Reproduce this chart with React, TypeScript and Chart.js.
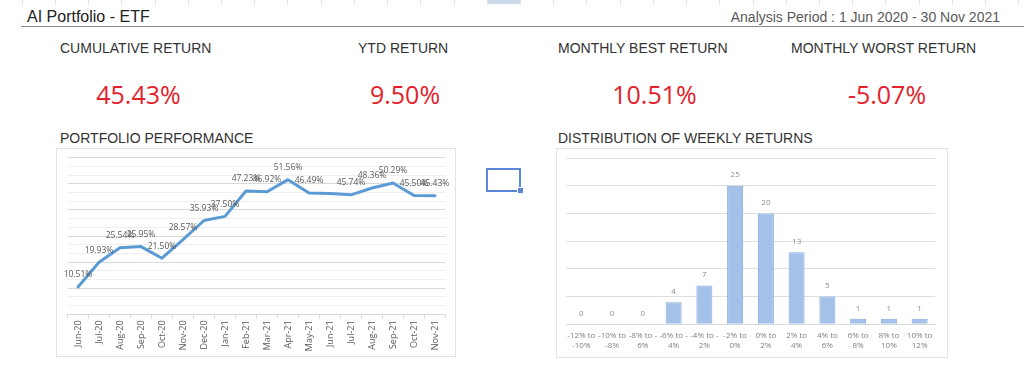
import React, { useEffect, useRef } from "react";
import { Chart, registerables } from "chart.js";

Chart.register(...registerables);
Chart.defaults.font.family = "'Open Sans', 'Noto Sans', sans-serif";

// ---------- data ----------
const dashboardTitle = "AI Portfolio - ETF";
const analysisPeriod = "Analysis Period : 1 Jun 2020 - 30 Nov 2021";

const kpiTitles = ["CUMULATIVE RETURN", "YTD RETURN", "MONTHLY BEST RETURN", "MONTHLY WORST RETURN"];
const kpiValues = ["45.43%", "9.50%", "10.51%", "-5.07%"];

const perfTitle = "PORTFOLIO PERFORMANCE";
const months = [
  "Jun-20", "Jul-20", "Aug-20", "Sep-20", "Oct-20", "Nov-20", "Dec-20",
  "Jan-21", "Feb-21", "Mar-21", "Apr-21", "May-21", "Jun-21", "Jul-21",
  "Aug-21", "Sep-21", "Oct-21", "Nov-21",
];
const cumulativeReturn = [
  10.51, 19.93, 25.54, 25.95, 21.5, 28.57, 35.93, 37.5, 47.23, 46.92,
  51.56, 46.49, 46.3, 45.74, 48.36, 50.29, 45.5, 45.43,
];
const perfLabelShown = [
  true, true, true, true, true, true, true, true, true, true,
  true, true, false, true, true, true, true, true,
];

const distTitle = "DISTRIBUTION OF WEEKLY RETURNS";
const returnBins = [
  ["-12% to", "-10%"], ["-10% to", "-8%"], ["-8% to -", "6%"], ["-6% to -", "4%"],
  ["-4% to -", "2%"], ["-2% to", "0%"], ["0% to", "2%"], ["2% to", "4%"],
  ["4% to", "6%"], ["6% to", "8%"], ["8% to", "10%"], ["10% to", "12%"],
];
const weeklyCounts = [0, 0, 0, 4, 7, 25, 20, 13, 5, 1, 1, 1];

// ---------- layout constants ----------
const kpiTitleLeft = [60, 358, 558, 791];
const kpiValueCenter = [138.5, 405, 654.5, 887];

function makeValueLabels(
  format: (v: number, i: number) => string | null,
  font: string,
  color: string,
  offset: number
) {
  return {
    id: "valueLabels",
    afterDatasetsDraw(chart: any) {
      const { ctx } = chart;
      const meta = chart.getDatasetMeta(0);
      const data = chart.data.datasets[0].data as number[];
      ctx.save();
      ctx.font = font;
      ctx.fillStyle = color;
      ctx.textAlign = "center";
      ctx.textBaseline = "middle";
      meta.data.forEach((el: any, i: number) => {
        const t = format(data[i], i);
        if (t == null) return;
        ctx.fillText(t, el.x, el.y - offset);
      });
      ctx.restore();
    },
  };
}

function PerformanceChart() {
  const ref = useRef<HTMLCanvasElement>(null);
  useEffect(() => {
    if (!ref.current) return;
    const chart = new Chart(ref.current, {
      type: "line",
      data: {
        labels: months,
        datasets: [
          {
            data: cumulativeReturn,
            borderColor: "#5b9bd5",
            borderWidth: 3,
            pointRadius: 0,
            tension: 0,
            borderCapStyle: "round",
            borderJoinStyle: "round",
            fill: false,
          },
        ],
      },
      options: {
        responsive: false,
        animation: false,
        layout: { padding: { left: 10.5, right: 9.5, top: 8.6, bottom: 0 } },
        plugins: { legend: { display: false }, tooltip: { enabled: false } },
        scales: {
          x: {
            type: "category",
            offset: true,
            grid: {
              display: true,
              drawOnChartArea: false,
              drawTicks: true,
              tickLength: 4,
              offset: true,
              color: "#d9d9d9",
            },
            border: { display: true, color: "#d9d9d9" },
            ticks: {
              autoSkip: false,
              minRotation: 90,
              maxRotation: 90,
              padding: 2,
              color: "#595959",
              font: { size: 9 },
            },
            afterFit: (s: any) => {
              s.height = 41.6;
            },
          },
          y: {
            min: 0,
            max: 60,
            afterBuildTicks: (s: any) => {
              s.ticks = Array.from({ length: 19 }, (_, i) => ({ value: (i * 10) / 3 }));
            },
            ticks: { display: false },
            border: { display: false },
            grid: {
              drawTicks: false,
              color: (c: any) => {
                const v = c.tick ? c.tick.value : 0;
                return Math.abs(v / 10 - Math.round(v / 10)) < 1e-6 ? "#d9d9d9" : "#efefef";
              },
            },
          },
        },
      },
      plugins: [
        makeValueLabels(
          (v, i) => (perfLabelShown[i] ? v.toFixed(2) + "%" : null),
          "8.5px 'Open Sans', sans-serif",
          "#595959",
          12
        ),
      ],
    } as any);
    return () => chart.destroy();
  }, []);
  return <canvas ref={ref} width={398} height={207} style={{ display: "block", width: 398, height: 207 }} />;
}

function DistributionChart() {
  const ref = useRef<HTMLCanvasElement>(null);
  useEffect(() => {
    if (!ref.current) return;
    const chart = new Chart(ref.current, {
      type: "bar",
      data: {
        labels: returnBins,
        datasets: [
          {
            data: weeklyCounts,
            backgroundColor: "#a4c2e9",
            borderColor: "#83aade",
            borderWidth: 1,
            barPercentage: 0.52,
            categoryPercentage: 1,
          },
        ],
      },
      options: {
        responsive: false,
        animation: false,
        layout: { padding: { left: 9, right: 12, top: 9, bottom: 0 } },
        plugins: { legend: { display: false }, tooltip: { enabled: false } },
        scales: {
          x: {
            grid: { display: false, drawTicks: false },
            border: { display: true, color: "#d9d9d9" },
            ticks: {
              autoSkip: false,
              minRotation: 0,
              maxRotation: 0,
              padding: 6,
              color: "#7f7f7f",
              font: { size: 8, lineHeight: 1.25 },
            },
            afterFit: (s: any) => {
              s.height = 32.7;
            },
          },
          y: {
            min: 0,
            max: 30,
            ticks: { display: false, stepSize: 5 },
            border: { display: false },
            grid: { drawTicks: false, color: "#dedede" },
          },
        },
      },
      plugins: [
        makeValueLabels((v) => String(v), "8px 'Open Sans', sans-serif", "#8c8c8c", 10.5),
      ],
    } as any);
    return () => chart.destroy();
  }, []);
  return <canvas ref={ref} width={390} height={208} style={{ display: "block", width: 390, height: 208 }} />;
}

const arial = "'Liberation Sans', Arial, sans-serif";

export default function App() {
  const colLines = Array.from({ length: 31 }, (_, i) => Math.round(21.7 + i * 33.22));
  return (
    <div
      style={{
        position: "fixed",
        left: 0,
        top: 0,
        width: 1024,
        height: 367,
        background: "#ffffff",
        overflow: "hidden",
        fontFamily: arial,
      }}
    >
      {/* spreadsheet header strip */}
      <div style={{ position: "absolute", left: 487, top: 0, width: 33, height: 4, background: "#cbd8ec" }} />
      {colLines.map((x, i) => (
        <div key={i} style={{ position: "absolute", left: x, top: 0, width: 1, height: 5, background: "#e3e3e3" }} />
      ))}

      {/* title row */}
      <div style={{ position: "absolute", left: 27, top: 9.2, fontSize: 16, lineHeight: "16px", color: "#222", whiteSpace: "nowrap" }}>
        {dashboardTitle}
      </div>
      <div style={{ position: "absolute", right: 24, top: 9.6, fontSize: 14, lineHeight: "14px", color: "#595959", whiteSpace: "nowrap" }}>
        {analysisPeriod}
      </div>
      <div style={{ position: "absolute", left: 21, top: 26, width: 1003, height: 1, background: "#8a8a8a" }} />

      {/* KPI titles and values */}
      {kpiTitles.map((t, i) => (
        <div key={"t" + i} style={{ position: "absolute", left: kpiTitleLeft[i], top: 41, fontSize: 14, lineHeight: "14px", color: "#333", whiteSpace: "nowrap" }}>
          {t}
        </div>
      ))}
      {kpiValues.map((v, i) => (
        <div
          key={"v" + i}
          style={{
            position: "absolute",
            left: kpiValueCenter[i] - 80,
            width: 160,
            top: 81.8,
            textAlign: "center",
            fontFamily: "'Open Sans', sans-serif",
            fontSize: 25,
            lineHeight: "25px",
            color: "#e3222b",
            whiteSpace: "nowrap",
          }}
        >
          {v}
        </div>
      ))}

      {/* section titles */}
      <div style={{ position: "absolute", left: 60, top: 130.6, fontSize: 14, lineHeight: "14px", color: "#333", whiteSpace: "nowrap" }}>
        {perfTitle}
      </div>
      <div style={{ position: "absolute", left: 558, top: 130.6, fontSize: 14, lineHeight: "14px", color: "#333", whiteSpace: "nowrap" }}>
        {distTitle}
      </div>

      {/* performance chart box */}
      <div style={{ position: "absolute", left: 56, top: 148, width: 400, height: 209, boxSizing: "border-box", border: "1px solid #e2e2e2" }}>
        <PerformanceChart />
      </div>

      {/* distribution chart box */}
      <div style={{ position: "absolute", left: 556, top: 148, width: 392, height: 210, boxSizing: "border-box", border: "1px solid #e2e2e2" }}>
        <DistributionChart />
      </div>

      {/* selected cell */}
      <div style={{ position: "absolute", left: 486, top: 168, width: 35, height: 24, boxSizing: "border-box", border: "2px solid #5b87d8" }} />
      <div style={{ position: "absolute", left: 518, top: 188, width: 5, height: 5, background: "#5b87d8", outline: "1px solid #fff" }} />
    </div>
  );
}
